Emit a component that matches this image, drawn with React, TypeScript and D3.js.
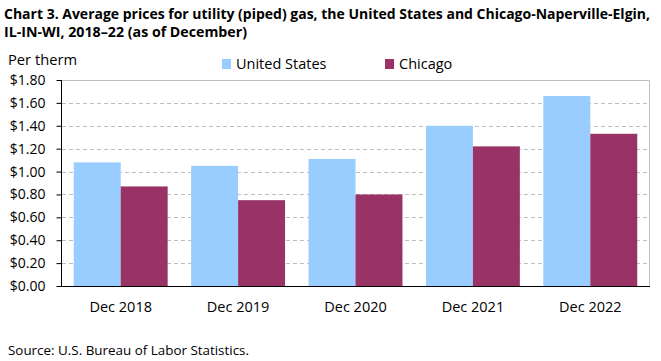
import React, { useEffect, useRef } from 'react';
import * as d3 from 'd3';

const categories = ['Dec 2018', 'Dec 2019', 'Dec 2020', 'Dec 2021', 'Dec 2022'];
const unitedStates = [1.08, 1.05, 1.11, 1.40, 1.66];
const chicago = [0.87, 0.75, 0.80, 1.22, 1.33];
const seriesNames = ['United States', 'Chicago'];
const colors = ['#99CCFF', '#993366'];
const yTicks = [0, 0.2, 0.4, 0.6, 0.8, 1.0, 1.2, 1.4, 1.6, 1.8];

const FONT = "'Open Sans', sans-serif";

const App: React.FC = () => {
    const ref = useRef<SVGSVGElement>(null);

    useEffect(() => {
        const svg = d3.select(ref.current);
        svg.selectAll('*').remove();

        const left = 62, right = 649, top = 80, bottom = 286;

        const x = d3.scaleBand().domain(categories).range([left, right]).paddingInner(0.2).paddingOuter(0.1);
        const x1 = d3.scaleBand().domain(seriesNames).range([0, x.bandwidth()]);
        const y = d3.scaleLinear().domain([0, 1.8]).range([bottom, top]);

        svg.append('rect').attr('width', 661).attr('height', 361).attr('fill', '#fff');

        // title
        const title = svg.append('g').attr('font-family', FONT).attr('font-weight', 700)
            .attr('font-size', 14).attr('fill', '#000');
        title.append('text').attr('x', 4).attr('y', 19)
            .attr('textLength', 646).attr('lengthAdjust', 'spacingAndGlyphs')
            .text('Chart 3. Average prices for utility (piped) gas, the United States and Chicago-Naperville-Elgin,');
        title.append('text').attr('x', 4).attr('y', 37)
            .attr('textLength', 243).attr('lengthAdjust', 'spacingAndGlyphs')
            .text('IL-IN-WI, 2018\u201322 (as of December)');

        svg.append('text').attr('x', 8).attr('y', 65).attr('font-family', FONT).attr('font-size', 14)
            .attr('textLength', 69).attr('lengthAdjust', 'spacingAndGlyphs')
            .text('Per therm');

        // gridlines
        svg.append('g').selectAll('line').data(yTicks.filter(t => t > 0 && t < 1.8)).enter().append('line')
            .attr('x1', left).attr('x2', right)
            .attr('y1', d => Math.round(y(d)) + 0.5).attr('y2', d => Math.round(y(d)) + 0.5)
            .attr('stroke', '#BFBFBF').attr('stroke-dasharray', '4,3');

        // plot border top/right
        svg.append('path')
            .attr('d', `M${left},${top + 0.5}H${right + 0.5}V${bottom}`)
            .attr('fill', 'none').attr('stroke', '#BFBFBF');

        // bars
        const groups = svg.append('g').selectAll('g').data(categories).enter().append('g')
            .attr('transform', d => `translate(${x(d)},0)`);
        groups.selectAll('rect')
            .data((d, i) => [unitedStates[i], chicago[i]].map((v, k) => ({ v, k })))
            .enter().append('rect')
            .attr('x', d => x1(seriesNames[d.k]) as number)
            .attr('width', x1.bandwidth())
            .attr('y', d => y(d.v))
            .attr('height', d => bottom - y(d.v))
            .attr('fill', d => colors[d.k]);

        // y axis
        const yAxis = svg.append('g').attr('transform', `translate(${left - 0.5},0)`)
            .call(d3.axisLeft(y).tickValues(yTicks).tickSize(5).tickPadding(11)
                .tickFormat(d => `$${(+d).toFixed(2)}`));
        yAxis.select('.domain').attr('d', `M0,${top}V${bottom}`).attr('stroke', '#000');
        yAxis.selectAll('.tick line').attr('stroke', '#000');
        yAxis.selectAll('text').attr('font-family', FONT).attr('font-size', 14).attr('fill', '#000');

        // x axis
        const xAxis = svg.append('g').attr('transform', `translate(0,${bottom + 0.5})`)
            .call(d3.axisBottom(x).tickSize(0).tickPadding(15));
        xAxis.select('.domain').attr('d', `M${left - 1},0H${right + 1}`).attr('stroke', '#000');
        xAxis.selectAll('text').attr('font-family', FONT).attr('font-size', 14.5).attr('fill', '#000');

        // legend
        const legendX = [222, 385];
        const legend = svg.append('g').selectAll('g').data(seriesNames).enter().append('g')
            .attr('transform', (d, i) => `translate(${legendX[i]},59)`);
        legend.append('rect').attr('width', 9).attr('height', 10).attr('fill', (d, i) => colors[i]);
        legend.append('text').attr('x', 14).attr('y', 10).attr('font-family', FONT).attr('font-size', 14.5)
            .text(d => d);

        // source
        svg.append('text').attr('x', 8).attr('y', 355).attr('font-family', FONT).attr('font-size', 13)
            .attr('textLength', 241).attr('lengthAdjust', 'spacingAndGlyphs')
            .text('Source: U.S. Bureau of Labor Statistics.');
    }, []);

    return <svg ref={ref} width={661} height={361}
        style={{ display: 'block', position: 'absolute', left: 0, top: 0 }}></svg>;
};

export default App;
